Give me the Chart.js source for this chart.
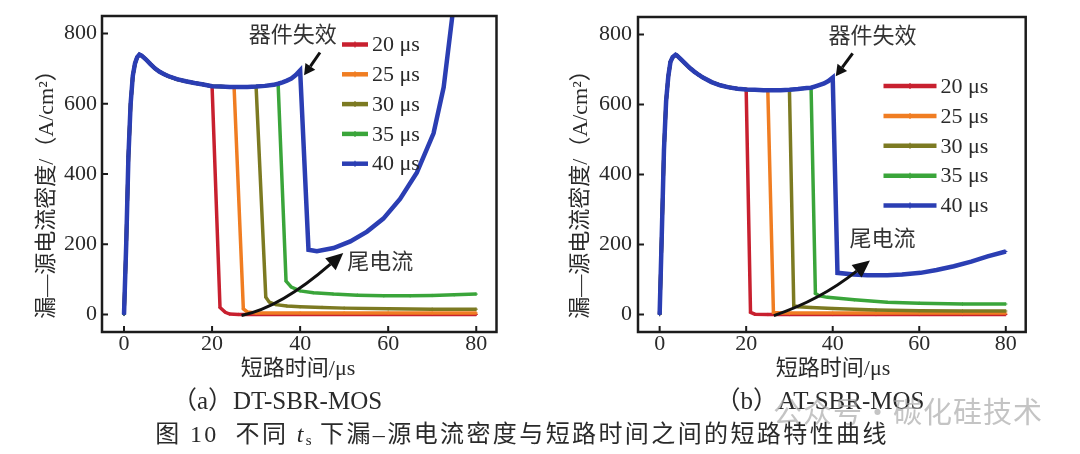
<!DOCTYPE html>
<html>
<head>
<meta charset="utf-8">
<title>不同ts下漏-源电流密度与短路时间之间的短路特性曲线</title>
<script src="https://cdn.jsdelivr.net/npm/chart.js"></script>
<style>
    body {
        margin: 0;
        width: 1080px;
        height: 454px;
        overflow: hidden;
        position: relative;
        background: #fff;
        font-family: "Liberation Serif", "Noto Sans CJK SC", serif;
        color: #2a2a2a;
    }
    canvas { position: absolute; top: 0; }
    #chartA { left: 0; }
    #chartB { left: 540px; }
    .cap {
        position: absolute;
        white-space: nowrap;
        transform: translate(-50%, -50%);
        line-height: 1;
    }
    .sub { font-size: 25px; }
    #figcap { font-size: 24px; letter-spacing: 2.4px; }
    #figcap sub { font-size: 15px; vertical-align: -3px; letter-spacing: 0; }
    #wm { font-family: "Noto Sans CJK SC", sans-serif; font-size: 29px; color: rgba(165,165,165,0.65); letter-spacing: 1px; }
</style>
</head>
<body>
<canvas id="chartA" width="540" height="454"></canvas>
<canvas id="chartB" width="540" height="454"></canvas>
<div class="cap sub" style="left:277px; top:400px;">（a）DT-SBR-MOS</div>
<div class="cap sub" style="left:820px; top:400px;">（b）AT-SBR-MOS</div>
<div class="cap" id="wm" style="left:908px; top:410px;">公众号・碳化硅技术</div>
<div class="cap" id="figcap" style="left:522px; top:435px;">图 10&nbsp;&nbsp;不同 <i>t</i><sub>s</sub> 下漏–源电流密度与短路时间之间的短路特性曲线</div>

<script>
// ---- data (time in us, current density in A/cm2) ----
var xTicks = [0, 20, 40, 60, 80];
var yTicks = [0, 200, 400, 600, 800];
var seriesLabels = ['20 μs', '25 μs', '30 μs', '35 μs', '40 μs'];
var turnOff = [20, 25, 30, 35, 40];

// (a) DT-SBR-MOS: common rise / plateau
var dtBaseT = [0, 0.5, 1, 1.5, 2, 2.5, 3, 3.5, 4, 5, 6, 7, 8, 9, 10, 12, 14, 16, 18, 20, 22, 24, 25, 26, 28, 30, 32, 34, 35, 36, 37, 38, 39, 40];
var dtBaseJ = [0, 200, 450, 600, 680, 715, 733, 740, 737, 726, 713, 701, 692, 685, 679, 670, 664, 659, 655, 650, 649, 648, 648, 648, 648, 649, 651, 654, 657, 661, 666, 672, 682, 695];
// (a) tails after turn-off
var dtTail20T = [21.8, 23, 24, 26, 30, 40, 50, 60, 70, 80];
var dtTail20J = [20, 6, 1, 0, 0, 0, 0, 0, 0, 0];
var dtTail25T = [27.1, 28, 30, 40, 50, 60, 70, 80];
var dtTail25J = [16, 7, 4, 4, 4, 4, 4, 4];
var dtTail30T = [32.2, 33, 34.5, 37, 40, 45, 50, 60, 70, 80];
var dtTail30J = [49, 35, 28, 24, 22, 20, 18, 16, 15, 15];
var dtTail35T = [36.8, 38, 40, 43, 47.5, 53, 59, 65, 70, 75, 80];
var dtTail35J = [95, 78, 67, 62, 58, 55, 53, 53, 54, 56, 58];
var dtTail40T = [41.9, 43.8, 47.6, 51.4, 55.2, 58.9, 62.7, 66.5, 70.3, 72.6, 74.5, 75];
var dtTail40J = [184, 180, 189, 208, 236, 273, 329, 404, 516, 647, 843, 900];

// (b) AT-SBR-MOS: common rise / plateau
var atBaseT = [0, 0.5, 1, 1.5, 2, 2.5, 3, 3.7, 4, 5, 6, 7, 8, 9, 10, 12, 14, 16, 18, 20, 22, 24, 25, 26, 28, 30, 32, 34, 35, 36, 38, 39, 40];
var atBaseJ = [0, 230, 470, 610, 680, 722, 735, 742, 740, 728, 716, 704, 694, 685, 677, 664, 655, 649, 645, 643, 642, 641, 641, 641, 641, 642, 644, 647, 648, 652, 660, 667, 677];
// (b) tails after turn-off
var atTail20T = [21, 22, 25, 30, 40, 50, 60, 70, 80];
var atTail20J = [6, 1, 0, 0, 0, 0, 0, 0, 0];
var atTail25T = [26.3, 28, 30, 40, 50, 60, 70, 80];
var atTail25J = [6, 4, 4, 4, 4, 4, 4, 4];
var atTail30T = [31, 32, 35, 40, 50, 60, 70, 80];
var atTail30J = [25, 22, 20, 17, 13, 11, 10, 10];
var atTail35T = [36, 37, 38.8, 45, 52.6, 60, 70, 80];
var atTail35J = [60, 53, 49, 42, 35, 32, 30, 30];
var atTail40T = [41.1, 44.9, 48, 52.6, 56, 60.3, 64, 68, 72, 75.8, 80];
var atTail40J = [119, 114, 112, 112, 114, 119, 127, 138, 151, 166, 180];

var colors = ['#c8202f', '#f07d22', '#7c7a22', '#3aa53a', '#2b3eb3'];
var widths = [3.5, 3.5, 3.5, 3.5, 4.5];

function buildSeries(baseT, baseJ, ts, tailT, tailJ) {
    var pts = [];
    for (var i = 0; i < baseT.length; i++) {
        if (baseT[i] <= ts) pts.push({x: baseT[i], y: baseJ[i]});
    }
    for (var k = 0; k < tailT.length; k++) pts.push({x: tailT[k], y: tailJ[k]});
    return pts;
}

var fontLatin = '"Liberation Serif", "Noto Sans CJK SC", serif';

// frame, inward ticks, axis titles, legend and arrows
var decoPlugin = {
    id: 'deco',
    afterDraw: function(chart, args, o) {
        var ctx = chart.ctx, a = chart.chartArea;
        var xs = chart.scales.x, ys = chart.scales.y;
        ctx.save();

        // axis box
        ctx.strokeStyle = '#1c1c1c';
        ctx.lineWidth = 2.5;
        ctx.strokeRect(a.left, a.top, a.right - a.left, a.bottom - a.top);
        ctx.lineWidth = 2;
        ctx.beginPath();
        xs.ticks.forEach(function(t) {
            var px = xs.getPixelForValue(t.value);
            ctx.moveTo(px, a.bottom); ctx.lineTo(px, a.bottom - 6);
        });
        ys.ticks.forEach(function(t) {
            var py = ys.getPixelForValue(t.value);
            ctx.moveTo(a.left, py); ctx.lineTo(a.left + 6, py);
        });
        ctx.stroke();

        // axis titles
        ctx.fillStyle = '#2a2a2a';
        ctx.font = '22px ' + fontLatin;
        ctx.textAlign = 'center';
        ctx.textBaseline = 'middle';
        ctx.fillText('短路时间/μs', o.xTitle[0], o.xTitle[1]);
        ctx.save();
        ctx.translate(o.yTitle[0], o.yTitle[1]);
        ctx.rotate(-Math.PI / 2);
        ctx.fillText('漏—源电流密度/（A/cm²）', 0, 0);
        ctx.restore();

        // legend
        chart.data.datasets.forEach(function(ds, i) {
            var ry = o.legend.top + i * o.legend.step;
            ctx.strokeStyle = ds.borderColor;
            ctx.lineWidth = 4.5;
            ctx.beginPath();
            ctx.moveTo(o.legend.left, ry);
            ctx.lineTo(o.legend.left + o.legend.len, ry);
            ctx.stroke();
            var mx = o.legend.left + o.legend.len / 2;
            ctx.lineWidth = 1.2;
            ctx.beginPath();
            ctx.moveTo(mx, ry - 3); ctx.lineTo(mx, ry + 3);
            ctx.stroke();
            ctx.fillStyle = '#2a2a2a';
            ctx.textAlign = 'left';
            ctx.font = '22px ' + fontLatin;
            ctx.fillText(ds.label, o.legend.left + o.legend.len + 4, ry + 1);
        });

        // annotation labels
        ctx.textAlign = 'center';
        ctx.font = '22px ' + fontLatin;
        ctx.fillStyle = '#333';
        o.notes.forEach(function(n) {
            ctx.fillText(n.text, xs.getPixelForValue(n.at[0]), ys.getPixelForValue(n.at[1]));
        });

        // arrows (quadratic curve, filled head)
        o.arrows.forEach(function(ar) {
            var p0 = [xs.getPixelForValue(ar.from[0]), ys.getPixelForValue(ar.from[1])];
            var p2 = [xs.getPixelForValue(ar.to[0]), ys.getPixelForValue(ar.to[1])];
            var c = ar.ctrl ? [xs.getPixelForValue(ar.ctrl[0]), ys.getPixelForValue(ar.ctrl[1])]
                            : [(p0[0] + p2[0]) / 2, (p0[1] + p2[1]) / 2];
            var dx = p2[0] - c[0], dy = p2[1] - c[1];
            var d = Math.sqrt(dx * dx + dy * dy);
            dx /= d; dy /= d;
            var base = [p2[0] - dx * ar.head, p2[1] - dy * ar.head];
            ctx.strokeStyle = '#111';
            ctx.fillStyle = '#111';
            ctx.lineWidth = ar.width;
            ctx.beginPath();
            ctx.moveTo(p0[0], p0[1]);
            ctx.quadraticCurveTo(c[0], c[1], base[0], base[1]);
            ctx.stroke();
            ctx.beginPath();
            ctx.moveTo(p2[0], p2[1]);
            ctx.lineTo(base[0] - dy * ar.half, base[1] + dx * ar.half);
            ctx.lineTo(base[0] + dy * ar.half, base[1] - dx * ar.half);
            ctx.closePath();
            ctx.fill();
        });
        ctx.restore();
    }
};

function makeChart(id, bases, tails, geo, deco) {
    var datasets = turnOff.map(function(ts, i) {
        return {
            label: seriesLabels[i],
            data: buildSeries(bases[0], bases[1], ts, tails[i][0], tails[i][1]),
            borderColor: colors[i],
            backgroundColor: colors[i],
            borderWidth: widths[i],
            pointRadius: 1.6,
            pointStyle: 'cross',
            pointBorderWidth: 1,
            showLine: true,
            tension: 0,
            order: 4 - i
        };
    });
    return new Chart(document.getElementById(id), {
        type: 'scatter',
        data: { datasets: datasets },
        plugins: [decoPlugin],
        options: {
            responsive: false,
            animation: false,
            events: [],
            layout: { padding: { left: 0, top: geo.top, right: geo.right, bottom: 0 } },
            plugins: {
                legend: { display: false },
                tooltip: { enabled: false },
                deco: deco
            },
            scales: {
                x: {
                    type: 'linear',
                    min: -5,
                    max: 84.6,
                    afterBuildTicks: function(s) { s.ticks = xTicks.map(function(v) { return {value: v}; }); },
                    afterFit: function(s) { s.height = 454 - geo.bottom; },
                    grid: { display: false, drawTicks: false },
                    border: { display: false },
                    ticks: { color: '#2a2a2a', padding: 1, font: { family: fontLatin, size: 22, lineHeight: 1 } }
                },
                y: {
                    type: 'linear',
                    min: -50,
                    max: 850,
                    afterBuildTicks: function(s) { s.ticks = yTicks.map(function(v) { return {value: v}; }); },
                    afterFit: function(s) { s.width = geo.left; },
                    grid: { display: false, drawTicks: false },
                    border: { display: false },
                    ticks: { color: '#2a2a2a', padding: geo.tickPad, font: { family: fontLatin, size: 22, lineHeight: 1 } }
                }
            }
        }
    });
}

makeChart('chartA', [dtBaseT, dtBaseJ],
    [[dtTail20T, dtTail20J], [dtTail25T, dtTail25J], [dtTail30T, dtTail30J], [dtTail35T, dtTail35J], [dtTail40T, dtTail40J]],
    { left: 102, right: 43.5, top: 12, bottom: 332, tickPad: 5 },
    {
        xTitle: [298, 369], yTitle: [47, 189],
        legend: { left: 342, len: 26, top: 44.5, step: 29.8 },
        notes: [{ text: '器件失效', at: [38.3, 792] }, { text: '尾电流', at: [58.2, 147] }],
        arrows: [
            { from: [44.5, 746], to: [40.9, 681], head: 11, half: 6, width: 3 },
            { from: [26.7, -3], ctrl: [35.6, 20], to: [49.8, 175], head: 17, half: 8, width: 3 }
        ]
    });

makeChart('chartB', [atBaseT, atBaseJ],
    [[atTail20T, atTail20J], [atTail25T, atTail25J], [atTail30T, atTail30J], [atTail35T, atTail35J], [atTail40T, atTail40J]],
    { left: 98, right: 54.3, top: 12.5, bottom: 332, tickPad: 6 },
    {
        xTitle: [293, 369], yTitle: [41, 189],
        legend: { left: 343.5, len: 53, top: 86, step: 29.9 },
        notes: [{ text: '器件失效', at: [49.2, 793] }, { text: '尾电流', at: [51.5, 211] }],
        arrows: [
            { from: [44.6, 746], to: [40.7, 681], head: 11, half: 6, width: 3 },
            { from: [26.4, -3], ctrl: [37.1, 41], to: [48.6, 154], head: 17, half: 8, width: 3 }
        ]
    });
</script>
</body>
</html>
